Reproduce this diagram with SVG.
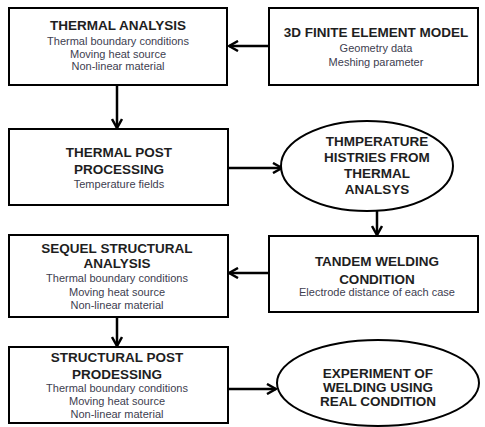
<svg xmlns="http://www.w3.org/2000/svg" width="485" height="427" viewBox="0 0 485 427">
<defs>
<style>
.box{fill:#fff;stroke:#000;stroke-width:2}
.t{font-family:"Liberation Sans",Arial,sans-serif;font-weight:bold;font-size:13.5px;fill:#1e1e1e;text-anchor:middle}
.s{font-family:"Liberation Sans",Arial,sans-serif;font-size:11px;fill:#404050;text-anchor:middle}
.c{fill:none;stroke:#000;stroke-width:2.5}
</style>
<marker id="ah" viewBox="0 0 12 12" refX="11" refY="6" markerWidth="12" markerHeight="12" markerUnits="userSpaceOnUse" orient="auto">
<path d="M2,1 L11,6 L2,11" fill="none" stroke="#000" stroke-width="2.5"/>
</marker>
</defs>
<rect width="485" height="427" fill="#fff"/>
<g id="connectors">
<line class="c" x1="269" y1="46" x2="229" y2="46" marker-end="url(#ah)"/>
<line class="c" x1="117" y1="85" x2="117" y2="128" marker-end="url(#ah)"/>
<line class="c" x1="228" y1="168" x2="282" y2="168" marker-end="url(#ah)"/>
<line class="c" x1="377" y1="211" x2="377" y2="235" marker-end="url(#ah)"/>
<line class="c" x1="269" y1="273" x2="229" y2="273" marker-end="url(#ah)"/>
<line class="c" x1="117" y1="317" x2="117" y2="346" marker-end="url(#ah)"/>
<line class="c" x1="228" y1="389" x2="276" y2="389" marker-end="url(#ah)"/>
</g>
<g id="thermal-analysis">
<rect class="box" x="9" y="8" width="218" height="77"/>
<text class="t" x="118" y="30">THERMAL ANALYSIS</text>
<text class="s" x="118" y="45">Thermal boundary conditions</text>
<text class="s" x="118" y="58">Moving heat source</text>
<text class="s" x="118" y="70">Non-linear material</text>
</g>
<g id="fem-model">
<rect class="box" x="269" y="8" width="209" height="77"/>
<text class="t" x="376" y="37">3D FINITE ELEMENT MODEL</text>
<text class="s" x="376" y="52">Geometry data</text>
<text class="s" x="376" y="66">Meshing parameter</text>
</g>
<g id="thermal-post">
<rect class="box" x="9" y="129" width="219" height="76"/>
<text class="t" x="119" y="157">THERMAL POST</text>
<text class="t" x="119" y="174">PROCESSING</text>
<text class="s" x="119" y="188">Temperature  fields</text>
</g>
<g id="temp-histories">
<ellipse class="box" cx="367" cy="166" rx="86" ry="45"/>
<text class="t" x="377" y="146">THMPERATURE</text>
<text class="t" x="377" y="162">HISTRIES FROM</text>
<text class="t" x="377" y="178">THERMAL</text>
<text class="t" x="377" y="194">ANALSYS</text>
</g>
<g id="tandem">
<rect class="box" x="269" y="236" width="209" height="76"/>
<text class="t" x="377" y="266">TANDEM WELDING</text>
<text class="t" x="377" y="284">CONDITION</text>
<text class="s" x="377" y="296">Electrode distance of each case</text>
</g>
<g id="sequel-structural">
<rect class="box" x="9" y="235" width="219" height="82"/>
<text class="t" x="117" y="253">SEQUEL STRUCTURAL</text>
<text class="t" x="117" y="268">ANALYSIS</text>
<text class="s" x="117" y="282">Thermal boundary conditions</text>
<text class="s" x="117" y="296">Moving heat source</text>
<text class="s" x="117" y="309">Non-linear material</text>
</g>
<g id="structural-post">
<rect class="box" x="9" y="347" width="219" height="76"/>
<text class="t" x="117" y="362">STRUCTURAL POST</text>
<text class="t" x="117" y="379">PRODESSING</text>
<text class="s" x="117" y="392">Thermal boundary conditions</text>
<text class="s" x="117" y="405">Moving heat source</text>
<text class="s" x="117" y="418">Non-linear material</text>
</g>
<g id="experiment">
<ellipse class="box" cx="378" cy="383" rx="101" ry="43"/>
<text class="t" x="378" y="378">EXPERIMENT OF</text>
<text class="t" x="378" y="392">WELDING USING</text>
<text class="t" x="378" y="406">REAL CONDITION</text>
</g>
</svg>
